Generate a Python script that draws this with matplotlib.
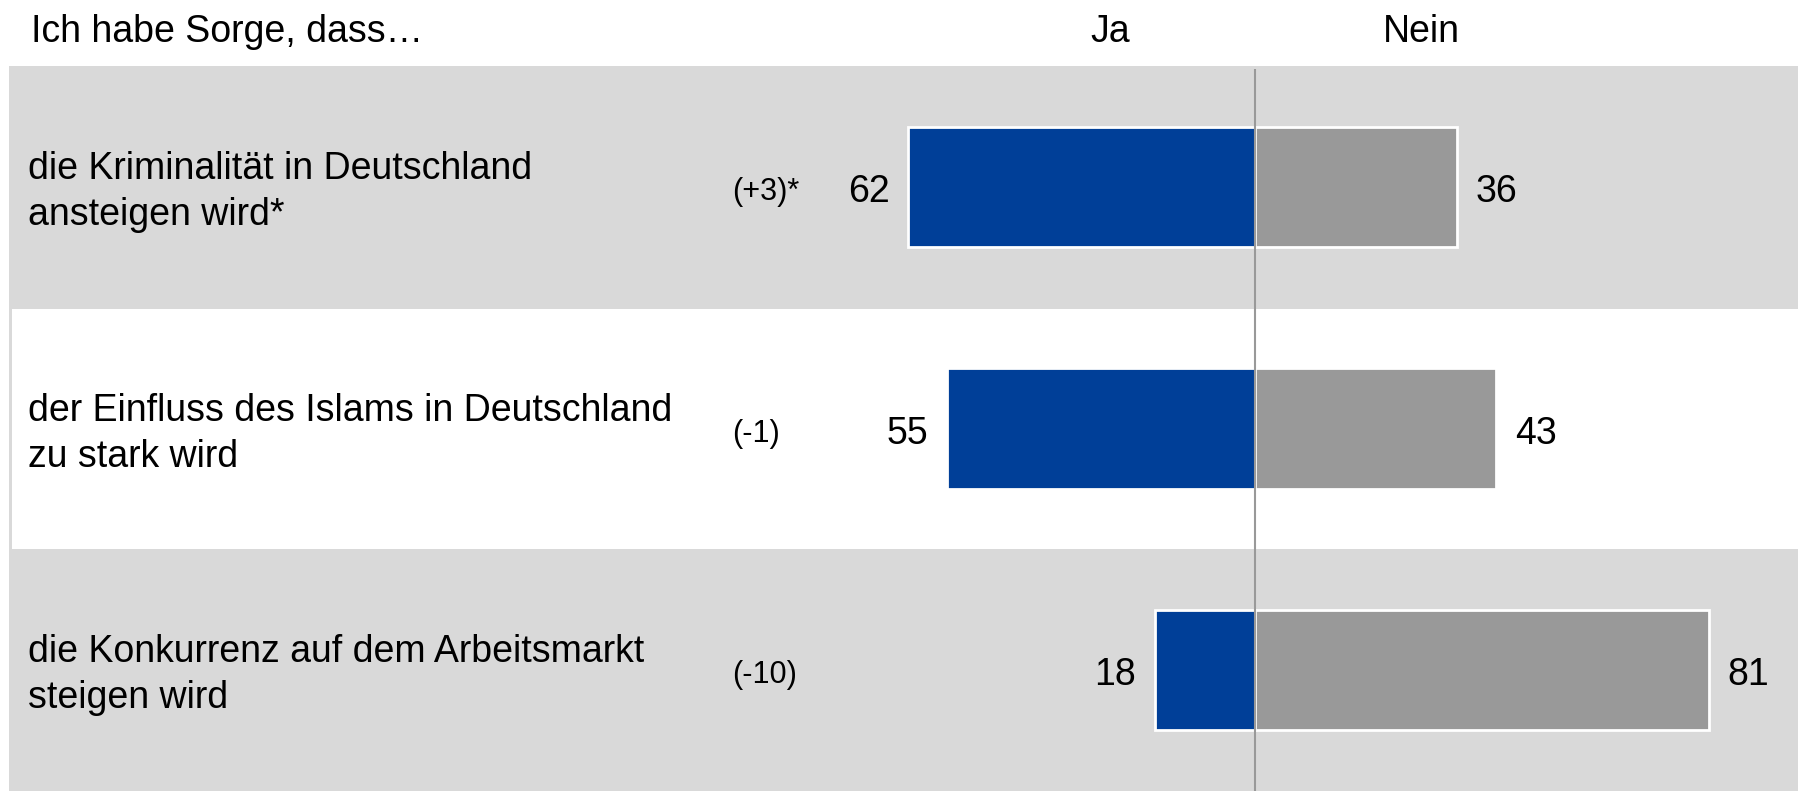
import matplotlib

matplotlib.use("Agg")
import matplotlib.pyplot as plt

plt.rcParams["font.family"] = ["Liberation Sans", "DejaVu Sans"]

# ---- data ----
labels = [
    "die Kriminalität in Deutschland\nansteigen wird*",
    "der Einfluss des Islams in Deutschland\nzu stark wird",
    "die Konkurrenz auf dem Arbeitsmarkt\nsteigen wird",
]
changes = ["(+3)*", "(-1)", "(-10)"]
ja = [62, 55, 18]
nein = [36, 43, 81]
header = "Ich habe Sorge, dass…"
col_titles = ["Ja", "Nein"]

BLUE = "#003f98"
GREY = "#999999"
BAND = "#d9d9d9"
FS = 27
DY = 0.022  # nudge text down a bit so it sits like the original

fig = plt.figure(figsize=(17.98, 7.91), dpi=100)
ax = fig.add_axes([0, 0, 1, 1])
ax.set_xlim(-224.2, 96.9)
ax.set_ylim(2.501, -0.774)
ax.axis("off")

# background bands
ax.axhspan(-0.5, 2.501, xmin=9 / 1798, xmax=1, color=BAND, lw=0, zorder=0)
ax.axhspan(0.505, 1.499, xmin=12 / 1798, xmax=1, color="white", lw=0, zorder=0.5)

y = list(range(len(labels)))
ax.barh(y, [-v for v in ja], height=0.5, color=BLUE, edgecolor="white", linewidth=2, zorder=2)
ax.barh(y, nein, height=0.5, color=GREY, edgecolor="white", linewidth=2, zorder=2)
ax.vlines(0, -0.49, 2.501, color=GREY, lw=1.5, zorder=3)

for i in y:
    ax.text(-219.2, i + DY, labels[i], fontsize=FS, va="center", ha="left", linespacing=1.36)
    ax.text(-93.5, i + DY, changes[i], fontsize=22, va="center", ha="left")
    ax.annotate(str(ja[i]), (-ja[i], i + DY), xytext=(-13.5, 0), textcoords="offset points",
                fontsize=FS, va="center", ha="right")
    ax.annotate(str(nein[i]), (nein[i], i + DY), xytext=(13.5, 0), textcoords="offset points",
                fontsize=FS, va="center", ha="left")

ax.text(-218.7, -0.64, header, fontsize=FS, va="center", ha="left")
ax.text(-26, -0.64, col_titles[0], fontsize=FS, va="center", ha="center")
ax.text(29.7, -0.64, col_titles[1], fontsize=FS, va="center", ha="center")

fig.savefig("out.png", dpi=100)
plt.close(fig)
